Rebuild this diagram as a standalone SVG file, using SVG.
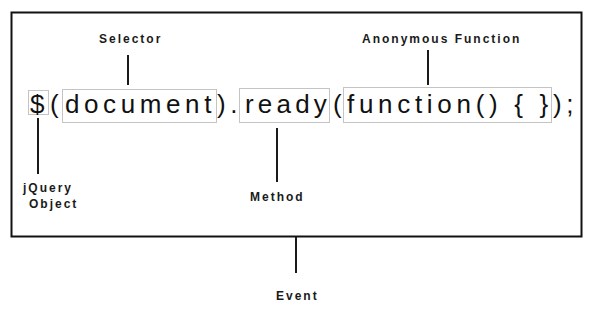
<svg xmlns="http://www.w3.org/2000/svg" width="600" height="311" viewBox="0 0 600 311">
  <style>
    .frame { fill: none; stroke: #111; stroke-width: 2; }
    .hl { fill: none; stroke: #c4c4c4; stroke-width: 1; }
    .lead { stroke: #1a1a1a; stroke-width: 2; fill: none; }
    .code { font-family: "Liberation Sans", Arial, sans-serif; font-size: 26px; fill: #111; letter-spacing: 4.6px; }
    .label { font-family: "Liberation Sans", Arial, sans-serif; font-size: 12px; font-weight: bold; fill: #1a1a1a; letter-spacing: 2px; }
  </style>
  <rect width="600" height="311" fill="#fff"/>
  <rect class="frame" x="11.5" y="12.5" width="570" height="224"/>

  <!-- code line with highlighted parts -->
  <g id="code">
    <rect class="hl" x="28.5" y="90.5" width="20" height="24"/>
    <rect class="hl" x="62.5" y="89.5" width="154" height="33"/>
    <rect class="hl" x="239.5" y="88.5" width="90" height="34"/>
    <rect class="hl" x="343.5" y="87.5" width="208" height="35"/>
    <text class="code" y="113">
      <tspan x="30">$</tspan><tspan x="50">(</tspan><tspan x="65">document</tspan><tspan x="217">).</tspan><tspan x="245" letter-spacing="4.2">ready</tspan><tspan x="333">(</tspan><tspan x="347" letter-spacing="4.7">function() { }</tspan><tspan x="553">);</tspan>
    </text>
  </g>

  <!-- leader lines -->
  <g id="connectors">
    <line class="lead" x1="128" y1="55" x2="128" y2="85"/>
    <line class="lead" x1="428" y1="50" x2="428" y2="85"/>
    <line class="lead" x1="38" y1="118" x2="38" y2="174"/>
    <line class="lead" x1="277" y1="128" x2="277" y2="182"/>
    <line class="lead" x1="296" y1="237" x2="296" y2="273"/>
  </g>

  <g id="selector"><text class="label" x="99" y="43">Selector</text></g>
  <g id="anonymous-function"><text class="label" x="362" y="43">Anonymous Function</text></g>
  <g id="jquery-object">
    <text class="label" x="23" y="192">jQuery</text>
    <text class="label" x="29" y="208">Object</text>
  </g>
  <g id="method"><text class="label" x="250" y="201">Method</text></g>
  <g id="event"><text class="label" x="276" y="300">Event</text></g>
</svg>
